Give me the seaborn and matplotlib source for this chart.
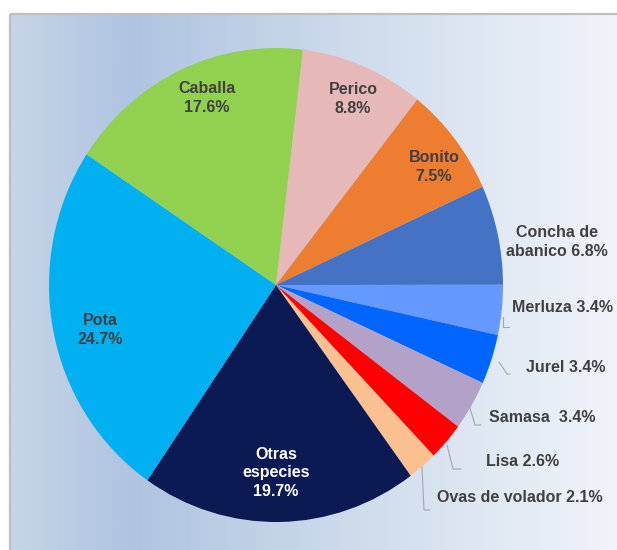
import numpy as np
import matplotlib
matplotlib.use("Agg")
import matplotlib.pyplot as plt
import seaborn as sns
from matplotlib.colors import LinearSegmentedColormap
from matplotlib.patches import Rectangle

# ---- data ----
species = ["Perico", "Bonito", "Concha de abanico", "Merluza", "Jurel", "Samasa",
           "Lisa", "Ovas de volador", "Otras especies", "Pota", "Caballa"]
shares = [8.8, 7.5, 6.8, 3.4, 3.4, 3.4, 2.6, 2.1, 19.7, 24.7, 17.6]
label_templates = ["Perico\n{}", "Bonito\n{}", "Concha de\nabanico {}", "Merluza {}",
                   "Jurel {}", "Samasa  {}", "Lisa {}", "Ovas de volador {}",
                   "Otras\nespecies\n{}", "Pota\n{}", "Caballa\n{}"]
colors = ["#e6b9b8", "#ed7d31", "#4472c4", "#6699ff", "#0066ff", "#b3a2c7",
          "#ff0000", "#fac090", "#0b1a52", "#00b0f0", "#92d050"]

# ---- layout (pixels) ----
W, H = 617, 550
label_pos = {
    "Perico": (353, 99), "Bonito": (434, 167), "Concha de abanico": (557, 242),
    "Merluza": (563, 308), "Jurel": (566, 367), "Samasa": (542, 417),
    "Lisa": (523, 462), "Ovas de volador": (520, 498),
    "Otras especies": (276, 473), "Pota": (100, 330), "Caballa": (207, 98),
}
leaders = {
    "Merluza": [(503, 317), (503, 327), (509, 327)],
    "Jurel": [(499, 362), (507, 374), (510, 374)],
    "Samasa": [(470, 408), (475, 425), (481, 425)],
    "Lisa": [(447, 445), (453, 469), (461, 469)],
    "Ovas de volador": [(422, 467), (424, 510), (430, 510)],
}

sns.set_theme(style="white")
plt.rcParams['font.family'] = ['Liberation Sans', 'DejaVu Sans']
palette = sns.color_palette(colors)

fig = plt.figure(figsize=(W / 100, H / 100), dpi=100)
fig.patch.set_facecolor("white")

# background gradient panel
ax_bg = fig.add_axes([0, 0, 1, 1])
ax_bg.set_xlim(0, W)
ax_bg.set_ylim(H, 0)
ax_bg.axis("off")
cmap = LinearSegmentedColormap.from_list(
    "bg", [(0.0, "#c6d5e8"), (0.2, "#afc4e0"), (0.55, "#cddbec"), (1.0, "#f2f5fa")])
grad = np.linspace(0, 1, 512)[None, :]
ax_bg.imshow(grad, cmap=cmap, aspect="auto", extent=(10, 625, 560, 14), zorder=0)
ax_bg.add_patch(Rectangle((9.5, 13.5), 620, 560, fill=False,
                          edgecolor="#bfbfbf", linewidth=1.6, zorder=2))

# pie axes (slightly elliptical, as in reference)
left, right, top, bottom = 49, 503, 48, 522
ax = fig.add_axes([left / W, (H - bottom) / H, (right - left) / W, (bottom - top) / H])
ax.pie(shares, colors=palette, startangle=83.2, counterclock=False, radius=1,
       wedgeprops=dict(linewidth=0))
ax.set_aspect("auto")
ax.set_xlim(-1, 1)
ax.set_ylim(-1, 1)
ax.axis("off")

# overlay for labels
ax_t = fig.add_axes([0, 0, 1, 1])
ax_t.set_xlim(0, W)
ax_t.set_ylim(H, 0)
ax_t.axis("off")
ax_t.patch.set_alpha(0)

for name, val, tmpl in zip(species, shares, label_templates):
    x, y = label_pos[name]
    col = "white" if name == "Otras especies" else "#404040"
    ax_t.text(x, y, tmpl.format(f"{val:.1f}%"), ha="center", va="center",
              fontsize=11.5, fontweight="bold", color=col, linespacing=1.32,
              multialignment="center")

for name, pts in leaders.items():
    xs, ys = zip(*pts)
    ax_t.plot(xs, ys, color="#a6a6a6", linewidth=0.8)

fig.savefig("out.png", dpi=100)
